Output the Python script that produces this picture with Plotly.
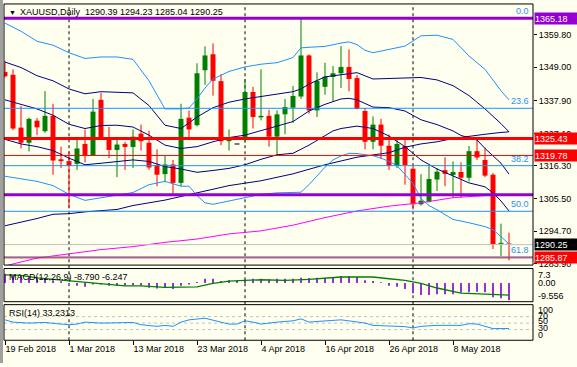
import plotly.graph_objects as go

W, H = 577, 367
def PX(x): return x / W
def PY(y): return 1 - y / H

# ------------------------------------------------------------------ data
symbol = "XAUUSD"
timeframe = "Daily"
date_labels = ["19 Feb 2018", "1 Mar 2018", "13 Mar 2018", "23 Mar 2018",
               "4 Apr 2018", "16 Apr 2018", "26 Apr 2018", "8 May 2018"]
date_label_bars = [0, 8, 16, 24, 32, 40, 48, 56]
month_start_bars = [8, 30, 51]

opens = [1347.4,1346.5,1329.0,1324.0,1331.3,1327.8,1332.9,1318.5,1317.9,1317.0,
         1323.6,1319.9,1338.2,1325.4,1321.6,1323.6,1322.6,1327.0,1324.0,1316.6,
         1313.6,1316.8,1310.7,1332.3,1329.8,1348.0,1353.3,1344.4,1324.5,1323.4,
         1325.5,1340.8,1332.4,1332.9,1326.0,1333.4,1335.6,1339.3,1352.9,1334.7,
         1342.5,1345.8,1347.0,1349.1,1345.4,1334.5,1324.3,1330.0,1323.0,1316.3,
         1322.9,1315.4,1303.6,1304.5,1311.8,1314.9,1313.3,1314.3,1312.4,1321.2,
         1318.3,1313.4,1290.5,1290.39]
highs = [1351.1,1348.3,1336.1,1332.3,1332.2,1341.1,1336.9,1322.7,1321.1,1325.7,
         1328.4,1338.5,1340.5,1329.2,1325.7,1324.3,1328.4,1330.0,1328.0,1321.8,
         1319.6,1318.3,1336.9,1334.7,1350.3,1355.9,1356.9,1346.7,1328.4,1323.4,
         1345.1,1342.5,1348.3,1334.9,1334.7,1338.5,1342.8,1365.18,1353.3,1347.3,
         1350.5,1349.4,1356.0,1354.9,1346.4,1335.5,1332.7,1331.9,1326.7,1325.4,
         1325.4,1316.6,1313.6,1316.6,1315.6,1319.2,1317.8,1317.5,1322.9,1325.7,
         1322.4,1314.0,1297.2,1294.23]
lows = [1345.6,1328.1,1322.1,1321.1,1326.5,1327.3,1313.4,1315.6,1302.5,1315.0,
        1317.5,1319.6,1324.9,1318.9,1312.6,1315.0,1315.6,1321.4,1315.0,1309.6,
        1310.9,1306.8,1309.6,1324.9,1329.4,1343.2,1339.6,1323.2,1321.4,1323.4,
        1324.0,1328.7,1331.4,1322.7,1319.9,1326.8,1330.6,1338.5,1333.6,1332.5,
        1339.9,1337.8,1342.1,1341.0,1335.0,1321.8,1321.8,1318.6,1315.0,1315.6,
        1310.1,1301.9,1303.2,1304.2,1308.0,1309.6,1305.8,1305.8,1311.2,1318.3,
        1312.6,1288.8,1286.4,1285.04]
closes = [1346.0,1328.7,1324.0,1331.9,1329.1,1332.9,1318.1,1317.9,1316.3,1322.1,
          1319.9,1334.3,1325.3,1321.6,1323.4,1322.6,1326.0,1324.5,1315.8,1313.4,
          1316.8,1310.7,1331.9,1328.4,1347.0,1352.9,1344.5,1324.5,1325.1,1323.4,
          1340.8,1332.5,1332.9,1326.0,1333.4,1335.8,1339.5,1352.9,1334.7,1344.5,
          1345.9,1347.0,1349.1,1345.1,1335.2,1324.3,1330.0,1323.0,1316.3,1323.6,
          1316.6,1303.6,1304.8,1312.0,1314.4,1313.7,1314.3,1312.4,1321.2,1319.1,
          1313.1,1290.3,1290.7,1290.25]

# Bollinger (20, 2) outer bands and middle line
bb2_upper_bars = [0,2,4,6,8,10,12,14,16,18,20,22,23,24,25,26,28,30,32,34,36,37,38,40,42,43,44,45,46,48,50,52,54,56,58,60,62,63]
bb2_upper = [1363.6,1360.9,1357.6,1356.3,1353.8,1351.9,1352.4,1352.4,1351.6,1344.5,
             1335.2,1335.2,1335.5,1338.5,1342.1,1345.1,1347.6,1349.1,1350.0,1350.5,
             1352.2,1355.4,1355.6,1355.9,1357.0,1357.4,1356.5,1354.6,1353.8,1355.0,
             1356.0,1359.4,1359.6,1358.2,1352.7,1348.3,1341.2,1338.2]
bb_mid_bars = [0,2,4,6,8,10,12,14,16,18,20,22,24,26,28,30,32,34,36,38,40,42,43,44,46,48,50,52,54,56,57,58,59,60,62,63]
bb_mid = [1338.2,1336.7,1335.2,1333.1,1330.1,1328.7,1329.7,1329.8,1329.2,1326.5,
          1323.2,1322.1,1322.7,1324.3,1325.7,1326.5,1327.9,1329.5,1331.0,1334.5,
          1336.7,1338.5,1338.7,1338.2,1335.8,1335.6,1334.5,1331.6,1330.0,1327.9,
          1326.4,1325.7,1324.9,1322.1,1317.2,1313.6]
bb2_lower_bars = [0,2,4,6,8,10,12,14,16,18,20,22,23,24,25,26,28,30,32,34,36,37,38,39,40,41,42,43,44,46,47,48,49,50,51,52,53,54,56,58,60,61,62,63]
bb2_lower = [1312.9,1312.0,1311.2,1309.8,1306.9,1304.9,1305.8,1306.5,1307.5,1310.1,
             1311.2,1309.6,1309.6,1306.5,1304.1,1303.6,1304.7,1305.8,1306.9,1307.4,
             1307.4,1307.6,1310.1,1312.9,1315.9,1318.3,1319.6,1320.5,1320.4,1319.7,
             1318.9,1317.8,1316.4,1313.5,1310.5,1305.5,1303.2,1301.8,1298.6,1297.5,
             1296.2,1295.2,1293.0,1290.5]
# Bollinger (20, 1) inner bands
bb1_upper_bars = [0,2,4,6,8,10,12,14,16,18,20,22,24,26,28,30,32,34,36,37,38,40,42,44,46,48,50,52,54,56,58,60,62,63]
bb1_upper = [1350.7,1348.9,1346.2,1344.5,1341.8,1340.2,1340.9,1340.7,1340.5,1336.3,
             1329.8,1328.7,1332.5,1335.6,1337.4,1338.5,1339.3,1340.2,1340.9,1341.8,
             1343.4,1345.8,1346.4,1347.2,1345.1,1345.3,1345.4,1345.6,1344.8,1342.9,
             1339.6,1335.2,1330.3,1327.6]
bb1_lower_bars = [0,2,4,6,8,10,12,14,16,18,20,22,24,26,28,30,32,34,36,38,40,41,42,44,46,48,50,52,54,56,58,60,61,62,63]
bb1_lower = [1325.1,1323.6,1322.7,1321.4,1318.9,1316.7,1317.2,1317.8,1318.3,1317.8,
             1316.1,1315.3,1314.2,1314.8,1315.5,1316.7,1318.5,1320.0,1320.5,1323.2,
             1326.2,1327.9,1328.7,1329.5,1328.7,1326.2,1322.7,1318.3,1315.3,1312.9,
             1310.7,1309.4,1307.4,1304.7,1301.4]
# long moving averages
sma100_bars = [0,2,4,6,8,10,12,14,16,20,24,28,32,36,40,44,48,50,52,54,56,58,60,62,63]
sma100 = [1296.5,1297.6,1298.9,1300.3,1300.5,1301.1,1301.4,1301.9,1303.2,1305.0,
          1307.4,1309.8,1311.4,1313.7,1316.7,1319.2,1320.7,1322.5,1323.6,1324.3,
          1325.4,1326.2,1326.8,1327.4,1327.6]
sma200_bars = [0,4,8,12,16,20,24,28,32,36,40,44,48,52,56,60,63]
sma200 = [1283.2,1285.8,1287.2,1288.6,1289.6,1291.0,1292.1,1293.8,1294.8,1296.7,
          1299.2,1301.4,1303.0,1304.1,1305.8,1306.5,1306.7]

# horizontal levels (user objects)
level_top = 1365.18
level_res1 = 1325.43
level_res2 = 1319.78
level_mid = 1306.8
level_sup = 1285.87
bid_price = 1290.25
fib_labels = ["0.0", "23.6", "38.2", "50.0", "61.8"]
fib_prices = [1365.18, 1335.4, 1316.4, 1301.3, 1286.2]
axis_levels = [1359.80, 1349.00, 1337.90, 1327.10, 1316.30, 1305.50, 1294.70, 1283.90]

# MACD(12,26,9)
macd_hist = [4.6,4.1,3.8,3.5,3.0,2.1,1.3,0.8,-0.3,-1.5,
             -2.0,-0.8,-0.8,-1.5,-1.5,-1.5,-1.2,-1.5,-2.5,-2.8,
             -2.5,-3.1,-1.5,-0.8,0.5,2.1,2.1,1.0,1.3,1.3,
             1.65,2.1,2.1,1.8,2.1,2.1,2.1,2.6,2.5,2.6,
             2.6,3.0,3.5,3.5,3.0,1.3,1.0,0.3,-1.5,-2.0,
             -3.1,-5.3,-6.1,-6.1,-5.8,-5.8,-5.8,-5.0,-4.8,-4.5,
             -4.8,-7.3,-7.8,-8.790]
macd_signal_bars = [0,2,4,8,10,12,15,17,20,24,26,28,32,35,38,42,46,48,50,52,54,57,60,62,63]
macd_signal = [4.1,3.8,2.6,1.2,0.2,-0.3,-1.5,-1.5,-2.3,-2.0,
               -0.3,0.9,1.6,1.3,1.8,3.0,3.0,2.1,1.3,-0.3,
               -2.6,-5.2,-5.8,-6.1,-6.247]
macd_max, macd_min = 7.3, -9.556

# RSI(14)
rsi_bars = [0,1,3,5,7,8,9,10,12,14,16,17,19,20,21,22,23,25,27,28,29,30,31,32,34,36,37,38,39,41,42,43,45,46,48,50,51,52,54,57,58,59,61,63]
rsi_vals = [60,53,50,52,47,45,47,53,50,50,52,45,40,43,40,53,60,65,53,47,
            47,57,53,47,53,57,63,53,55,57,60,57,50,43,42,39,35,40,43,43,
            48,47,33,33.2313]
rsi_levels = [70, 50, 30]
rsi_axis_labels = ["100", "70", "50", "30", "0"]

# ------------------------------------------------------------------ style
BG = "#FFFFF0"
FONT = "Liberation Sans, Arial, sans-serif"
FS = 9
BULL, BEAR, DOJI = "#008000", "#FF0000", "#000000"
LIGHTBLUE, NAVY, MAGENTA, PURPLE = "#1E90FF", "#000080", "#FF00FF", "#9400D3"

fig = go.Figure()

idx = list(range(len(opens)))
colors, bases, heights = [], [], []
for o, c in zip(opens, closes):
    colors.append(BULL if c > o else (BEAR if c < o else DOJI))
    bases.append(min(o, c))
    heights.append(max(abs(c - o), 0.35))

for col in (BULL, BEAR, DOJI):
    wx, wy = [], []
    for i in idx:
        if colors[i] == col:
            wx += [i, i, None]
            wy += [lows[i], highs[i], None]
    if wx:
        fig.add_trace(go.Scatter(x=wx, y=wy, mode="lines", line=dict(color=col, width=1),
                                 hoverinfo="skip", xaxis="x", yaxis="y"))

fig.add_trace(go.Bar(x=idx, y=heights, base=bases, width=0.62,
                     marker=dict(color=colors, line=dict(width=0)),
                     hoverinfo="skip", xaxis="x", yaxis="y"))

for bx, by, col in [(sma200_bars, sma200, MAGENTA), (sma100_bars, sma100, NAVY),
                    (bb2_upper_bars, bb2_upper, LIGHTBLUE), (bb2_lower_bars, bb2_lower, LIGHTBLUE),
                    (bb_mid_bars, bb_mid, NAVY), (bb1_upper_bars, bb1_upper, NAVY),
                    (bb1_lower_bars, bb1_lower, NAVY)]:
    fig.add_trace(go.Scatter(x=bx, y=by, mode="lines", line=dict(color=col, width=1),
                             hoverinfo="skip", xaxis="x", yaxis="y"))

# MACD
fig.add_trace(go.Bar(x=idx, y=macd_hist, width=0.25, marker=dict(color="#9932CC", line=dict(width=0)),
                     hoverinfo="skip", xaxis="x", yaxis="y2"))
fig.add_trace(go.Scatter(x=macd_signal_bars, y=macd_signal, mode="lines",
                         line=dict(color=BULL, width=1.3), hoverinfo="skip", xaxis="x", yaxis="y2"))
# RSI
fig.add_trace(go.Scatter(x=rsi_bars, y=rsi_vals, mode="lines",
                         line=dict(color=LIGHTBLUE, width=1), hoverinfo="skip", xaxis="x", yaxis="y3"))

XL, XR = PX(4), PX(533)
shapes = []
for b in month_start_bars:
    shapes.append(dict(type="line", xref="x", yref="paper", x0=b, x1=b, y0=PY(344), y1=PY(4),
                       line=dict(color="black", width=1, dash="3px,3px"), layer="below"))
for lv in rsi_levels:
    shapes.append(dict(type="line", xref="paper", yref="y3", x0=XL, x1=XR, y0=lv, y1=lv,
                       line=dict(color="#C0C0C0", width=1, dash="3px,3px"), layer="below"))
for fp in fib_prices:
    shapes.append(dict(type="line", xref="paper", yref="y", x0=XL, x1=XR, y0=fp, y1=fp,
                       line=dict(color=LIGHTBLUE, width=1), layer="above"))
for price, col, wd in [(bid_price, "#C0C0C0", 1), (level_sup, BEAR, 1), (level_res2, BEAR, 1),
                       (level_res1, BEAR, 3), (level_mid, PURPLE, 3), (level_top, PURPLE, 3)]:
    shapes.append(dict(type="line", xref="paper", yref="y", x0=XL, x1=XR, y0=price, y1=price,
                       line=dict(color=col, width=wd), layer="above"))
for t, b in [(4, 268), (271.5, 305), (308, 344)]:
    shapes.append(dict(type="rect", xref="paper", yref="paper", x0=XL, x1=XR, y0=PY(b), y1=PY(t),
                       line=dict(color="black", width=1), fillcolor="rgba(0,0,0,0)", layer="above"))
shapes.append(dict(type="rect", xref="paper", yref="paper", x0=0, x1=PX(3), y0=0, y1=1,
                   line=dict(width=0), fillcolor="#A0A0A0", layer="above"))

ann = []
def txt(x, y, s, color="black", size=FS, xanchor="left", yanchor="middle", yref="paper", **kw):
    a = dict(x=x, y=y, xref="paper", yref=yref, text=s, showarrow=False,
             font=dict(family=FONT, size=size, color=color), xanchor=xanchor, yanchor=yanchor)
    a.update(kw)
    ann.append(a)

txt(PX(7), PY(12.5), "▼", size=7)
txt(PX(18), PY(12.5),
    f"{symbol},{timeframe}\u00a0 {opens[-1]:.2f} {highs[-1]:.2f} {lows[-1]:.2f} {closes[-1]:.2f}")
txt(PX(7), PY(280.5), f"MACD(12,26,9) {macd_hist[-1]:.3f} {macd_signal[-1]:.3f}")
txt(PX(7), PY(316.5), f"RSI(14) {rsi_vals[-1]:.4f}")
for lab, fp in zip(fib_labels, fib_prices):
    txt(PX(531), fp, lab, color=LIGHTBLUE, xanchor="right", yanchor="bottom", yref="y")
for price, bg in [(level_top, PURPLE), (level_res1, BEAR), (level_res2, BEAR),
                  (bid_price, "#000000"), (level_sup, BEAR)]:
    txt(PX(534), price, f"{price:.2f}", color="white", yref="y", bgcolor=bg,
        width=43, height=11, align="left", borderpad=0)
txt(PX(536), PY(278), f"{macd_max:.1f}")
txt(PX(536), PY(285.7), "0.00")
txt(PX(536), PY(299), f"{macd_min:.3f}")
for s, yy in zip(rsi_axis_labels, [313.3, 319, 325, 331.7, 338.3]):
    txt(PX(536), PY(yy), s)

fig.update_layout(
    width=W, height=H, autosize=False, margin=dict(l=0, r=0, t=0, b=0),
    paper_bgcolor=BG, plot_bgcolor=BG, showlegend=False, barmode="overlay",
    shapes=shapes, annotations=ann,
    xaxis=dict(domain=[XL, XR], range=[-0.125, 66], anchor="y3",
               tickvals=date_label_bars, ticktext=date_labels, ticks="outside", ticklen=4,
               tickcolor="black", ticklabelposition="outside right",
               tickfont=dict(family=FONT, size=FS, color="black"),
               showgrid=False, zeroline=False, showline=False, fixedrange=True),
    yaxis=dict(domain=[PY(268), PY(4)], range=[1283.48, 1369.95], side="right", anchor="x",
               tickvals=axis_levels, ticktext=[f"{v:.2f}" for v in axis_levels],
               ticks="outside", ticklen=3, tickcolor="black",
               tickfont=dict(family=FONT, size=FS, color="black"),
               showgrid=False, zeroline=False, showline=False),
    yaxis2=dict(domain=[PY(305), PY(271.5)], range=[macd_min, macd_max], anchor="x",
                showticklabels=False, ticks="", showgrid=False, zeroline=False, showline=False),
    yaxis3=dict(domain=[PY(344), PY(308)], range=[-3, 107], anchor="x",
                showticklabels=False, ticks="", showgrid=False, zeroline=False, showline=False),
)

fig.write_html("out.html", config={"displayModeBar": False, "staticPlot": True},
               post_script="document.body.style.margin='0px';document.body.style.overflow='hidden';")
